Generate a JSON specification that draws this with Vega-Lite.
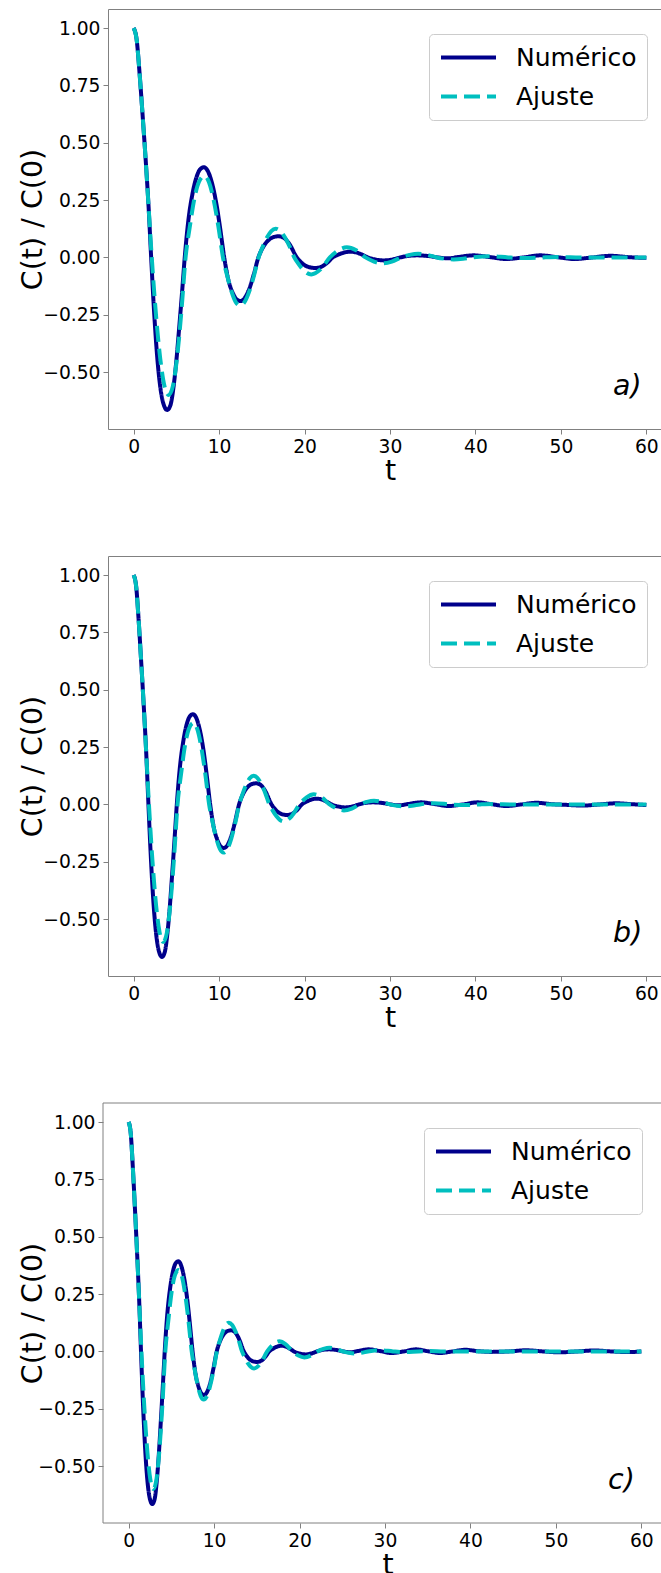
{
"$schema": "https://vega.github.io/schema/vega-lite/v6.json",
"padding": {"left": 17, "top": 8, "right": 0, "bottom": 0},
"spacing": 69,
"columns": 1,
"config": {
  "font": "DejaVu Sans",
  "view": {"stroke": "#808080", "strokeWidth": 1},
  "axis": {"grid": false, "domain": false, "tickSize": 5, "tickColor": "#808080", "tickWidth": 1, "labelFontSize": 18.7, "labelColor": "#000000", "labelPadding": 3, "titleFontSize": 28.5, "titleFontWeight": "normal", "titleColor": "#000000", "labelFont": "DejaVu Sans", "titleFont": "DejaVu Sans"},
  "legend": {"title": null, "orient": "top-right", "offset": 25, "symbolType": "stroke", "symbolSize": 3025, "symbolStrokeWidth": 4, "labelFontSize": 25, "labelFont": "DejaVu Sans", "labelColor": "#000000", "fillColor": "#ffffff", "strokeColor": "#cccccc", "cornerRadius": 4, "padding": 10, "rowPadding": 12, "labelOffset": 18, "clipHeight": 27}
},
"resolve": {"scale": {"color": "independent", "strokeDash": "independent"}, "legend": {"color": "independent", "strokeDash": "independent"}},
"datasets": {
"a": [
{"t":0,"v":1,"s":"Numérico"},{"t":0.35,"v":0.95,"s":"Numérico"},{"t":0.7,"v":0.8,"s":"Numérico"},{"t":1.05,"v":0.62,"s":"Numérico"},{"t":1.4,"v":0.43,"s":"Numérico"},{"t":1.75,"v":0.22,"s":"Numérico"},{"t":2.05,"v":0,"s":"Numérico"},{"t":2.4,"v":-0.24,"s":"Numérico"},{"t":2.75,"v":-0.43,"s":"Numérico"},{"t":3.1,"v":-0.56,"s":"Numérico"},{"t":3.5,"v":-0.64,"s":"Numérico"},{"t":3.92,"v":-0.665,"s":"Numérico"},{"t":4.3,"v":-0.645,"s":"Numérico"},{"t":4.65,"v":-0.57,"s":"Numérico"},{"t":5.0,"v":-0.45,"s":"Numérico"},{"t":5.3,"v":-0.32,"s":"Numérico"},{"t":5.65,"v":-0.16,"s":"Numérico"},{"t":5.98,"v":0,"s":"Numérico"},{"t":6.4,"v":0.16,"s":"Numérico"},{"t":6.9,"v":0.28,"s":"Numérico"},{"t":7.4,"v":0.355,"s":"Numérico"},{"t":7.8,"v":0.385,"s":"Numérico"},{"t":8.22,"v":0.393,"s":"Numérico"},{"t":8.7,"v":0.375,"s":"Numérico"},{"t":9.2,"v":0.32,"s":"Numérico"},{"t":9.7,"v":0.23,"s":"Numérico"},{"t":10.15,"v":0.12,"s":"Numérico"},{"t":10.6,"v":0,"s":"Numérico"},{"t":11.1,"v":-0.1,"s":"Numérico"},{"t":11.6,"v":-0.155,"s":"Numérico"},{"t":12.05,"v":-0.183,"s":"Numérico"},{"t":12.5,"v":-0.19,"s":"Numérico"},{"t":13.0,"v":-0.177,"s":"Numérico"},{"t":13.5,"v":-0.14,"s":"Numérico"},{"t":14.05,"v":-0.075,"s":"Numérico"},{"t":14.6,"v":0,"s":"Numérico"},{"t":15.2,"v":0.048,"s":"Numérico"},{"t":15.8,"v":0.076,"s":"Numérico"},{"t":16.4,"v":0.089,"s":"Numérico"},{"t":16.95,"v":0.092,"s":"Numérico"},{"t":17.5,"v":0.087,"s":"Numérico"},{"t":18.2,"v":0.06,"s":"Numérico"},{"t":19.1,"v":0,"s":"Numérico"},{"t":19.8,"v":-0.028,"s":"Numérico"},{"t":20.5,"v":-0.042,"s":"Numérico"},{"t":21.25,"v":-0.046,"s":"Numérico"},{"t":22.0,"v":-0.04,"s":"Numérico"},{"t":22.7,"v":-0.022,"s":"Numérico"},{"t":23.3,"v":0,"s":"Numérico"},{"t":24.0,"v":0.013,"s":"Numérico"},{"t":24.7,"v":0.022,"s":"Numérico"},{"t":25.4,"v":0.025,"s":"Numérico"},{"t":26.1,"v":0.021,"s":"Numérico"},{"t":26.8,"v":0.011,"s":"Numérico"},{"t":27.4,"v":0,"s":"Numérico"},{"t":28.3,"v":-0.009,"s":"Numérico"},{"t":29.3,"v":-0.013,"s":"Numérico"},{"t":30.3,"v":-0.009,"s":"Numérico"},{"t":31.2,"v":0,"s":"Numérico"},{"t":32.2,"v":0.007,"s":"Numérico"},{"t":33.2,"v":0.009,"s":"Numérico"},{"t":34.5,"v":0.006,"s":"Numérico"},{"t":35.6,"v":0,"s":"Numérico"},{"t":36.8,"v":-0.004,"s":"Numérico"},{"t":38.0,"v":0.002,"s":"Numérico"},{"t":39.8,"v":0.009,"s":"Numérico"},{"t":41.6,"v":0.002,"s":"Numérico"},{"t":43.6,"v":-0.007,"s":"Numérico"},{"t":45.6,"v":0,"s":"Numérico"},{"t":47.6,"v":0.009,"s":"Numérico"},{"t":49.6,"v":0.001,"s":"Numérico"},{"t":51.6,"v":-0.007,"s":"Numérico"},{"t":53.7,"v":0,"s":"Numérico"},{"t":55.8,"v":0.007,"s":"Numérico"},{"t":58.0,"v":0.001,"s":"Numérico"},{"t":60,"v":-0.002,"s":"Numérico"},
{"t":0,"v":1,"s":"Ajuste"},{"t":0.35,"v":0.95,"s":"Ajuste"},{"t":0.7,"v":0.8,"s":"Ajuste"},{"t":1.05,"v":0.62,"s":"Ajuste"},{"t":1.4,"v":0.43,"s":"Ajuste"},{"t":1.75,"v":0.22,"s":"Ajuste"},{"t":2.12,"v":0,"s":"Ajuste"},{"t":2.615,"v":-0.25,"s":"Ajuste"},{"t":3.11,"v":-0.44,"s":"Ajuste"},{"t":3.605,"v":-0.56,"s":"Ajuste"},{"t":4.1,"v":-0.6,"s":"Ajuste"},{"t":4.6,"v":-0.56,"s":"Ajuste"},{"t":5.1,"v":-0.43,"s":"Ajuste"},{"t":5.6,"v":-0.23,"s":"Ajuste"},{"t":6.08,"v":0,"s":"Ajuste"},{"t":6.6,"v":0.14,"s":"Ajuste"},{"t":7.1,"v":0.255,"s":"Ajuste"},{"t":7.65,"v":0.33,"s":"Ajuste"},{"t":8.27,"v":0.355,"s":"Ajuste"},{"t":8.82,"v":0.328,"s":"Ajuste"},{"t":9.36,"v":0.251,"s":"Ajuste"},{"t":9.91,"v":0.136,"s":"Ajuste"},{"t":10.455,"v":0,"s":"Ajuste"},{"t":10.95,"v":-0.08,"s":"Ajuste"},{"t":11.45,"v":-0.148,"s":"Ajuste"},{"t":11.94,"v":-0.194,"s":"Ajuste"},{"t":12.44,"v":-0.21,"s":"Ajuste"},{"t":12.99,"v":-0.194,"s":"Ajuste"},{"t":13.53,"v":-0.148,"s":"Ajuste"},{"t":14.08,"v":-0.08,"s":"Ajuste"},{"t":14.625,"v":0,"s":"Ajuste"},{"t":15.12,"v":0.048,"s":"Ajuste"},{"t":15.62,"v":0.088,"s":"Ajuste"},{"t":16.11,"v":0.115,"s":"Ajuste"},{"t":16.61,"v":0.125,"s":"Ajuste"},{"t":17.16,"v":0.115,"s":"Ajuste"},{"t":17.7,"v":0.088,"s":"Ajuste"},{"t":18.25,"v":0.048,"s":"Ajuste"},{"t":18.795,"v":0,"s":"Ajuste"},{"t":19.29,"v":-0.028,"s":"Ajuste"},{"t":19.79,"v":-0.052,"s":"Ajuste"},{"t":20.28,"v":-0.068,"s":"Ajuste"},{"t":20.78,"v":-0.074,"s":"Ajuste"},{"t":21.87,"v":-0.052,"s":"Ajuste"},{"t":22.965,"v":0,"s":"Ajuste"},{"t":23.96,"v":0.031,"s":"Ajuste"},{"t":24.95,"v":0.044,"s":"Ajuste"},{"t":26.04,"v":0.031,"s":"Ajuste"},{"t":27.135,"v":0,"s":"Ajuste"},{"t":28.13,"v":-0.018,"s":"Ajuste"},{"t":29.12,"v":-0.026,"s":"Ajuste"},{"t":30.21,"v":-0.018,"s":"Ajuste"},{"t":31.305,"v":0,"s":"Ajuste"},{"t":32.3,"v":0.011,"s":"Ajuste"},{"t":33.29,"v":0.016,"s":"Ajuste"},{"t":34.38,"v":0.011,"s":"Ajuste"},{"t":35.475,"v":0,"s":"Ajuste"},{"t":36.47,"v":-0.006,"s":"Ajuste"},{"t":37.46,"v":-0.009,"s":"Ajuste"},{"t":38.55,"v":-0.006,"s":"Ajuste"},{"t":39.645,"v":0,"s":"Ajuste"},{"t":41.63,"v":0.0055,"s":"Ajuste"},{"t":43.815,"v":0,"s":"Ajuste"},{"t":45.8,"v":-0.003,"s":"Ajuste"},{"t":47.98,"v":0,"s":"Ajuste"},{"t":49.97,"v":0.0015,"s":"Ajuste"},{"t":52.2,"v":0,"s":"Ajuste"},{"t":60,"v":0,"s":"Ajuste"}
],
"b": [
{"t":0,"v":1,"s":"Numérico"},{"t":0.296,"v":0.95,"s":"Numérico"},{"t":0.592,"v":0.8,"s":"Numérico"},{"t":0.887,"v":0.62,"s":"Numérico"},{"t":1.183,"v":0.43,"s":"Numérico"},{"t":1.479,"v":0.22,"s":"Numérico"},{"t":1.732,"v":0,"s":"Numérico"},{"t":2.028,"v":-0.24,"s":"Numérico"},{"t":2.324,"v":-0.43,"s":"Numérico"},{"t":2.62,"v":-0.56,"s":"Numérico"},{"t":2.958,"v":-0.64,"s":"Numérico"},{"t":3.312,"v":-0.665,"s":"Numérico"},{"t":3.634,"v":-0.645,"s":"Numérico"},{"t":3.929,"v":-0.57,"s":"Numérico"},{"t":4.225,"v":-0.45,"s":"Numérico"},{"t":4.479,"v":-0.32,"s":"Numérico"},{"t":4.774,"v":-0.16,"s":"Numérico"},{"t":5.053,"v":0,"s":"Numérico"},{"t":5.408,"v":0.16,"s":"Numérico"},{"t":5.831,"v":0.28,"s":"Numérico"},{"t":6.253,"v":0.355,"s":"Numérico"},{"t":6.591,"v":0.385,"s":"Numérico"},{"t":6.946,"v":0.393,"s":"Numérico"},{"t":7.352,"v":0.375,"s":"Numérico"},{"t":7.774,"v":0.32,"s":"Numérico"},{"t":8.197,"v":0.23,"s":"Numérico"},{"t":8.577,"v":0.12,"s":"Numérico"},{"t":8.957,"v":0,"s":"Numérico"},{"t":9.38,"v":-0.1,"s":"Numérico"},{"t":9.802,"v":-0.155,"s":"Numérico"},{"t":10.182,"v":-0.183,"s":"Numérico"},{"t":10.563,"v":-0.19,"s":"Numérico"},{"t":10.985,"v":-0.177,"s":"Numérico"},{"t":11.408,"v":-0.14,"s":"Numérico"},{"t":11.872,"v":-0.075,"s":"Numérico"},{"t":12.337,"v":0,"s":"Numérico"},{"t":12.844,"v":0.048,"s":"Numérico"},{"t":13.351,"v":0.076,"s":"Numérico"},{"t":13.858,"v":0.089,"s":"Numérico"},{"t":14.323,"v":0.092,"s":"Numérico"},{"t":14.788,"v":0.087,"s":"Numérico"},{"t":15.379,"v":0.06,"s":"Numérico"},{"t":16.14,"v":0,"s":"Numérico"},{"t":16.731,"v":-0.028,"s":"Numérico"},{"t":17.323,"v":-0.042,"s":"Numérico"},{"t":17.956,"v":-0.046,"s":"Numérico"},{"t":18.59,"v":-0.04,"s":"Numérico"},{"t":19.182,"v":-0.022,"s":"Numérico"},{"t":19.689,"v":0,"s":"Numérico"},{"t":20.28,"v":0.013,"s":"Numérico"},{"t":20.872,"v":0.022,"s":"Numérico"},{"t":21.463,"v":0.025,"s":"Numérico"},{"t":22.055,"v":0.021,"s":"Numérico"},{"t":22.646,"v":0.011,"s":"Numérico"},{"t":23.153,"v":0,"s":"Numérico"},{"t":23.914,"v":-0.009,"s":"Numérico"},{"t":24.759,"v":-0.013,"s":"Numérico"},{"t":25.604,"v":-0.009,"s":"Numérico"},{"t":26.364,"v":0,"s":"Numérico"},{"t":27.209,"v":0.007,"s":"Numérico"},{"t":28.054,"v":0.009,"s":"Numérico"},{"t":29.153,"v":0.006,"s":"Numérico"},{"t":30.082,"v":0,"s":"Numérico"},{"t":31.096,"v":-0.004,"s":"Numérico"},{"t":32.11,"v":0.002,"s":"Numérico"},{"t":33.631,"v":0.009,"s":"Numérico"},{"t":35.152,"v":0.002,"s":"Numérico"},{"t":36.842,"v":-0.007,"s":"Numérico"},{"t":38.532,"v":0,"s":"Numérico"},{"t":40.222,"v":0.009,"s":"Numérico"},{"t":41.912,"v":0.001,"s":"Numérico"},{"t":43.602,"v":-0.007,"s":"Numérico"},{"t":45.377,"v":0,"s":"Numérico"},{"t":47.151,"v":0.007,"s":"Numérico"},{"t":49.01,"v":0.001,"s":"Numérico"},{"t":50.7,"v":-0.002,"s":"Numérico"},{"t":52.5,"v":-0.005,"s":"Numérico"},{"t":54.5,"v":0,"s":"Numérico"},{"t":56.5,"v":0.005,"s":"Numérico"},{"t":58.3,"v":0.001,"s":"Numérico"},{"t":60,"v":-0.003,"s":"Numérico"},
{"t":0,"v":1,"s":"Ajuste"},{"t":0.296,"v":0.95,"s":"Ajuste"},{"t":0.592,"v":0.8,"s":"Ajuste"},{"t":0.887,"v":0.62,"s":"Ajuste"},{"t":1.183,"v":0.43,"s":"Ajuste"},{"t":1.479,"v":0.22,"s":"Ajuste"},{"t":1.791,"v":0,"s":"Ajuste"},{"t":2.21,"v":-0.25,"s":"Ajuste"},{"t":2.628,"v":-0.44,"s":"Ajuste"},{"t":3.046,"v":-0.56,"s":"Ajuste"},{"t":3.465,"v":-0.6,"s":"Ajuste"},{"t":3.887,"v":-0.56,"s":"Ajuste"},{"t":4.31,"v":-0.43,"s":"Ajuste"},{"t":4.732,"v":-0.23,"s":"Ajuste"},{"t":5.138,"v":0,"s":"Ajuste"},{"t":5.577,"v":0.14,"s":"Ajuste"},{"t":6.0,"v":0.255,"s":"Ajuste"},{"t":6.464,"v":0.33,"s":"Ajuste"},{"t":6.988,"v":0.355,"s":"Ajuste"},{"t":7.453,"v":0.328,"s":"Ajuste"},{"t":7.909,"v":0.251,"s":"Ajuste"},{"t":8.374,"v":0.136,"s":"Ajuste"},{"t":8.834,"v":0,"s":"Ajuste"},{"t":9.253,"v":-0.08,"s":"Ajuste"},{"t":9.675,"v":-0.148,"s":"Ajuste"},{"t":10.089,"v":-0.194,"s":"Ajuste"},{"t":10.512,"v":-0.21,"s":"Ajuste"},{"t":10.977,"v":-0.194,"s":"Ajuste"},{"t":11.433,"v":-0.148,"s":"Ajuste"},{"t":11.898,"v":-0.08,"s":"Ajuste"},{"t":12.358,"v":0,"s":"Ajuste"},{"t":12.776,"v":0.048,"s":"Ajuste"},{"t":13.199,"v":0.088,"s":"Ajuste"},{"t":13.613,"v":0.115,"s":"Ajuste"},{"t":14.035,"v":0.125,"s":"Ajuste"},{"t":14.5,"v":0.115,"s":"Ajuste"},{"t":14.957,"v":0.088,"s":"Ajuste"},{"t":15.421,"v":0.048,"s":"Ajuste"},{"t":15.882,"v":0,"s":"Ajuste"},{"t":16.3,"v":-0.028,"s":"Ajuste"},{"t":16.723,"v":-0.052,"s":"Ajuste"},{"t":17.137,"v":-0.068,"s":"Ajuste"},{"t":17.559,"v":-0.074,"s":"Ajuste"},{"t":18.48,"v":-0.052,"s":"Ajuste"},{"t":19.405,"v":0,"s":"Ajuste"},{"t":20.246,"v":0.031,"s":"Ajuste"},{"t":21.083,"v":0.044,"s":"Ajuste"},{"t":22.004,"v":0.031,"s":"Ajuste"},{"t":22.929,"v":0,"s":"Ajuste"},{"t":23.77,"v":-0.018,"s":"Ajuste"},{"t":24.606,"v":-0.026,"s":"Ajuste"},{"t":25.527,"v":-0.018,"s":"Ajuste"},{"t":26.453,"v":0,"s":"Ajuste"},{"t":27.294,"v":0.011,"s":"Ajuste"},{"t":28.13,"v":0.016,"s":"Ajuste"},{"t":29.051,"v":0.011,"s":"Ajuste"},{"t":29.976,"v":0,"s":"Ajuste"},{"t":30.817,"v":-0.006,"s":"Ajuste"},{"t":31.654,"v":-0.009,"s":"Ajuste"},{"t":32.575,"v":-0.006,"s":"Ajuste"},{"t":33.5,"v":0,"s":"Ajuste"},{"t":35.177,"v":0.0055,"s":"Ajuste"},{"t":37.024,"v":0,"s":"Ajuste"},{"t":38.701,"v":-0.003,"s":"Ajuste"},{"t":40.543,"v":0,"s":"Ajuste"},{"t":42.225,"v":0.0015,"s":"Ajuste"},{"t":44.109,"v":0,"s":"Ajuste"},{"t":60,"v":0,"s":"Ajuste"}
],
"c": [
{"t":0,"v":1,"s":"Numérico"},{"t":0.247,"v":0.95,"s":"Numérico"},{"t":0.494,"v":0.8,"s":"Numérico"},{"t":0.741,"v":0.62,"s":"Numérico"},{"t":0.988,"v":0.43,"s":"Numérico"},{"t":1.236,"v":0.22,"s":"Numérico"},{"t":1.447,"v":0,"s":"Numérico"},{"t":1.694,"v":-0.24,"s":"Numérico"},{"t":1.942,"v":-0.43,"s":"Numérico"},{"t":2.189,"v":-0.56,"s":"Numérico"},{"t":2.471,"v":-0.64,"s":"Numérico"},{"t":2.768,"v":-0.665,"s":"Numérico"},{"t":3.036,"v":-0.645,"s":"Numérico"},{"t":3.283,"v":-0.57,"s":"Numérico"},{"t":3.53,"v":-0.45,"s":"Numérico"},{"t":3.742,"v":-0.32,"s":"Numérico"},{"t":3.989,"v":-0.16,"s":"Numérico"},{"t":4.222,"v":0,"s":"Numérico"},{"t":4.518,"v":0.16,"s":"Numérico"},{"t":4.871,"v":0.28,"s":"Numérico"},{"t":5.224,"v":0.355,"s":"Numérico"},{"t":5.507,"v":0.385,"s":"Numérico"},{"t":5.803,"v":0.393,"s":"Numérico"},{"t":6.142,"v":0.375,"s":"Numérico"},{"t":6.495,"v":0.32,"s":"Numérico"},{"t":6.848,"v":0.23,"s":"Numérico"},{"t":7.166,"v":0.12,"s":"Numérico"},{"t":7.484,"v":0,"s":"Numérico"},{"t":7.837,"v":-0.1,"s":"Numérico"},{"t":8.19,"v":-0.155,"s":"Numérico"},{"t":8.507,"v":-0.183,"s":"Numérico"},{"t":8.825,"v":-0.19,"s":"Numérico"},{"t":9.178,"v":-0.177,"s":"Numérico"},{"t":9.531,"v":-0.14,"s":"Numérico"},{"t":9.919,"v":-0.075,"s":"Numérico"},{"t":10.308,"v":0,"s":"Numérico"},{"t":10.731,"v":0.048,"s":"Numérico"},{"t":11.155,"v":0.076,"s":"Numérico"},{"t":11.578,"v":0.089,"s":"Numérico"},{"t":11.967,"v":0.092,"s":"Numérico"},{"t":12.355,"v":0.087,"s":"Numérico"},{"t":12.849,"v":0.06,"s":"Numérico"},{"t":13.485,"v":0,"s":"Numérico"},{"t":13.979,"v":-0.028,"s":"Numérico"},{"t":14.473,"v":-0.042,"s":"Numérico"},{"t":15.003,"v":-0.046,"s":"Numérico"},{"t":15.532,"v":-0.04,"s":"Numérico"},{"t":16.026,"v":-0.022,"s":"Numérico"},{"t":16.45,"v":0,"s":"Numérico"},{"t":16.944,"v":0.013,"s":"Numérico"},{"t":17.438,"v":0.022,"s":"Numérico"},{"t":17.932,"v":0.025,"s":"Numérico"},{"t":18.427,"v":0.021,"s":"Numérico"},{"t":18.921,"v":0.011,"s":"Numérico"},{"t":19.344,"v":0,"s":"Numérico"},{"t":19.98,"v":-0.009,"s":"Numérico"},{"t":20.686,"v":-0.013,"s":"Numérico"},{"t":21.392,"v":-0.009,"s":"Numérico"},{"t":22.027,"v":0,"s":"Numérico"},{"t":22.733,"v":0.007,"s":"Numérico"},{"t":23.439,"v":0.009,"s":"Numérico"},{"t":24.357,"v":0.006,"s":"Numérico"},{"t":25.134,"v":0,"s":"Numérico"},{"t":25.981,"v":-0.004,"s":"Numérico"},{"t":26.828,"v":0.002,"s":"Numérico"},{"t":28.099,"v":0.009,"s":"Numérico"},{"t":29.37,"v":0.002,"s":"Numérico"},{"t":30.782,"v":-0.007,"s":"Numérico"},{"t":32.194,"v":0,"s":"Numérico"},{"t":33.606,"v":0.009,"s":"Numérico"},{"t":35.018,"v":0.001,"s":"Numérico"},{"t":36.43,"v":-0.007,"s":"Numérico"},{"t":37.912,"v":0,"s":"Numérico"},{"t":39.395,"v":0.007,"s":"Numérico"},{"t":40.948,"v":0.001,"s":"Numérico"},{"t":42.36,"v":-0.002,"s":"Numérico"},{"t":44.5,"v":0,"s":"Numérico"},{"t":46.5,"v":0.005,"s":"Numérico"},{"t":48.5,"v":0,"s":"Numérico"},{"t":50.5,"v":-0.004,"s":"Numérico"},{"t":52.5,"v":0,"s":"Numérico"},{"t":54.5,"v":0.004,"s":"Numérico"},{"t":56.5,"v":0,"s":"Numérico"},{"t":58.5,"v":-0.003,"s":"Numérico"},{"t":60,"v":0,"s":"Numérico"},
{"t":0,"v":1,"s":"Ajuste"},{"t":0.247,"v":0.95,"s":"Ajuste"},{"t":0.494,"v":0.8,"s":"Ajuste"},{"t":0.741,"v":0.62,"s":"Ajuste"},{"t":0.988,"v":0.43,"s":"Ajuste"},{"t":1.236,"v":0.22,"s":"Ajuste"},{"t":1.497,"v":0,"s":"Ajuste"},{"t":1.846,"v":-0.25,"s":"Ajuste"},{"t":2.196,"v":-0.44,"s":"Ajuste"},{"t":2.545,"v":-0.56,"s":"Ajuste"},{"t":2.895,"v":-0.6,"s":"Ajuste"},{"t":3.248,"v":-0.56,"s":"Ajuste"},{"t":3.601,"v":-0.43,"s":"Ajuste"},{"t":3.954,"v":-0.23,"s":"Ajuste"},{"t":4.292,"v":0,"s":"Ajuste"},{"t":4.66,"v":0.14,"s":"Ajuste"},{"t":5.013,"v":0.255,"s":"Ajuste"},{"t":5.401,"v":0.33,"s":"Ajuste"},{"t":5.839,"v":0.355,"s":"Ajuste"},{"t":6.227,"v":0.328,"s":"Ajuste"},{"t":6.608,"v":0.251,"s":"Ajuste"},{"t":6.996,"v":0.136,"s":"Ajuste"},{"t":7.381,"v":0,"s":"Ajuste"},{"t":7.731,"v":-0.08,"s":"Ajuste"},{"t":8.084,"v":-0.148,"s":"Ajuste"},{"t":8.43,"v":-0.194,"s":"Ajuste"},{"t":8.783,"v":-0.21,"s":"Ajuste"},{"t":9.171,"v":-0.194,"s":"Ajuste"},{"t":9.552,"v":-0.148,"s":"Ajuste"},{"t":9.94,"v":-0.08,"s":"Ajuste"},{"t":10.325,"v":0,"s":"Ajuste"},{"t":10.675,"v":0.048,"s":"Ajuste"},{"t":11.028,"v":0.088,"s":"Ajuste"},{"t":11.374,"v":0.115,"s":"Ajuste"},{"t":11.727,"v":0.125,"s":"Ajuste"},{"t":12.115,"v":0.115,"s":"Ajuste"},{"t":12.496,"v":0.088,"s":"Ajuste"},{"t":12.885,"v":0.048,"s":"Ajuste"},{"t":13.269,"v":0,"s":"Ajuste"},{"t":13.619,"v":-0.028,"s":"Ajuste"},{"t":13.972,"v":-0.052,"s":"Ajuste"},{"t":14.318,"v":-0.068,"s":"Ajuste"},{"t":14.671,"v":-0.074,"s":"Ajuste"},{"t":15.44,"v":-0.052,"s":"Ajuste"},{"t":16.213,"v":0,"s":"Ajuste"},{"t":16.916,"v":0.031,"s":"Ajuste"},{"t":17.615,"v":0.044,"s":"Ajuste"},{"t":18.384,"v":0.031,"s":"Ajuste"},{"t":19.157,"v":0,"s":"Ajuste"},{"t":19.86,"v":-0.018,"s":"Ajuste"},{"t":20.559,"v":-0.026,"s":"Ajuste"},{"t":21.328,"v":-0.018,"s":"Ajuste"},{"t":22.101,"v":0,"s":"Ajuste"},{"t":22.804,"v":0.011,"s":"Ajuste"},{"t":23.503,"v":0.016,"s":"Ajuste"},{"t":24.272,"v":0.011,"s":"Ajuste"},{"t":25.045,"v":0,"s":"Ajuste"},{"t":25.748,"v":-0.006,"s":"Ajuste"},{"t":26.447,"v":-0.009,"s":"Ajuste"},{"t":27.216,"v":-0.006,"s":"Ajuste"},{"t":27.989,"v":0,"s":"Ajuste"},{"t":29.391,"v":0.0055,"s":"Ajuste"},{"t":30.933,"v":0,"s":"Ajuste"},{"t":32.335,"v":-0.003,"s":"Ajuste"},{"t":33.874,"v":0,"s":"Ajuste"},{"t":35.279,"v":0.0015,"s":"Ajuste"},{"t":36.853,"v":0,"s":"Ajuste"},{"t":60,"v":0,"s":"Ajuste"}
]
},
"concat": [
{
  "width": 564, "height": 420,
  "layer": [
    {"data": {"name": "a"}, "transform": [{"filter": "datum.s === 'Numérico'"}],
     "mark": {"type": "line", "strokeWidth": 4, "interpolate": "monotone", "clip": true},
     "encoding": {
       "x": {"field": "t", "type": "quantitative", "scale": {"domain": [-3, 63], "nice": false, "zero": false}, "axis": {"values": [0,10,20,30,40,50,60], "title": "t", "titlePadding": 1, "labelFlush": false}},
       "y": {"field": "v", "type": "quantitative", "scale": {"domain": [-0.748, 1.083], "nice": false, "zero": false}, "axis": {"values": [-0.5,-0.25,0,0.25,0.5,0.75,1], "format": ".2f", "title": "C(t) / C(0)", "minExtent": 61, "maxExtent": 61, "titlePadding": 0}},
       "color": {"field": "s", "type": "nominal", "scale": {"domain": ["Numérico", "Ajuste"], "range": ["#00008B", "#00BFBF"]}},
       "strokeDash": {"field": "s", "type": "nominal", "scale": {"domain": ["Numérico", "Ajuste"], "range": [[1,0],[16,7]]}}
     }},
    {"data": {"name": "a"}, "transform": [{"filter": "datum.s === 'Ajuste'"}],
     "mark": {"type": "line", "strokeWidth": 4, "interpolate": "monotone", "clip": true},
     "encoding": {
       "x": {"field": "t", "type": "quantitative"},
       "y": {"field": "v", "type": "quantitative"},
       "color": {"field": "s", "type": "nominal"},
       "strokeDash": {"field": "s", "type": "nominal"}
     }},
    {"data": {"values": [{"lab": "a)"}]},
     "mark": {"type": "text", "fontSize": 28.5, "fontStyle": "italic", "align": "left", "baseline": "alphabetic", "font": "DejaVu Sans", "color": "#000000"},
     "encoding": {"x": {"datum": 56.1, "type": "quantitative"}, "y": {"datum": -0.6, "type": "quantitative"}, "text": {"field": "lab"}}}
  ]
},
{
  "width": 564, "height": 420,
  "layer": [
    {"data": {"name": "b"}, "transform": [{"filter": "datum.s === 'Numérico'"}],
     "mark": {"type": "line", "strokeWidth": 4, "interpolate": "monotone", "clip": true},
     "encoding": {
       "x": {"field": "t", "type": "quantitative", "scale": {"domain": [-3, 63], "nice": false, "zero": false}, "axis": {"values": [0,10,20,30,40,50,60], "title": "t", "titlePadding": 1, "labelFlush": false}},
       "y": {"field": "v", "type": "quantitative", "scale": {"domain": [-0.748, 1.083], "nice": false, "zero": false}, "axis": {"values": [-0.5,-0.25,0,0.25,0.5,0.75,1], "format": ".2f", "title": "C(t) / C(0)", "minExtent": 61, "maxExtent": 61, "titlePadding": 0}},
       "color": {"field": "s", "type": "nominal", "scale": {"domain": ["Numérico", "Ajuste"], "range": ["#00008B", "#00BFBF"]}},
       "strokeDash": {"field": "s", "type": "nominal", "scale": {"domain": ["Numérico", "Ajuste"], "range": [[1,0],[16,7]]}}
     }},
    {"data": {"name": "b"}, "transform": [{"filter": "datum.s === 'Ajuste'"}],
     "mark": {"type": "line", "strokeWidth": 4, "interpolate": "monotone", "clip": true},
     "encoding": {
       "x": {"field": "t", "type": "quantitative"},
       "y": {"field": "v", "type": "quantitative"},
       "color": {"field": "s", "type": "nominal"},
       "strokeDash": {"field": "s", "type": "nominal"}
     }},
    {"data": {"values": [{"lab": "b)"}]},
     "mark": {"type": "text", "fontSize": 28.5, "fontStyle": "italic", "align": "left", "baseline": "alphabetic", "font": "DejaVu Sans", "color": "#000000"},
     "encoding": {"x": {"datum": 56.1, "type": "quantitative"}, "y": {"datum": -0.6, "type": "quantitative"}, "text": {"field": "lab"}}}
  ]
},
{
  "width": 559, "height": 420,
  "view": {"stroke": null},
  "layer": [
    {"data": {"name": "c"}, "transform": [{"filter": "datum.s === 'Numérico'"}],
     "mark": {"type": "line", "strokeWidth": 4, "interpolate": "monotone", "clip": true},
     "encoding": {
       "x": {"field": "t", "type": "quantitative", "scale": {"domain": [-2.415, 63], "nice": false, "zero": false}, "axis": {"values": [0,10,20,30,40,50,60], "title": "t", "titlePadding": 1, "labelFlush": false}},
       "y": {"field": "v", "type": "quantitative", "scale": {"domain": [-0.748, 1.083], "nice": false, "zero": false}, "axis": {"values": [-0.5,-0.25,0,0.25,0.5,0.75,1], "format": ".2f", "title": "C(t) / C(0)", "offset": 5, "minExtent": 56, "maxExtent": 56, "titlePadding": 0}},
       "color": {"field": "s", "type": "nominal", "scale": {"domain": ["Numérico", "Ajuste"], "range": ["#00008B", "#00BFBF"]}},
       "strokeDash": {"field": "s", "type": "nominal", "scale": {"domain": ["Numérico", "Ajuste"], "range": [[1,0],[16,7]]}}
     }},
    {"data": {"name": "c"}, "transform": [{"filter": "datum.s === 'Ajuste'"}],
     "mark": {"type": "line", "strokeWidth": 4, "interpolate": "monotone", "clip": true},
     "encoding": {
       "x": {"field": "t", "type": "quantitative"},
       "y": {"field": "v", "type": "quantitative"},
       "color": {"field": "s", "type": "nominal"},
       "strokeDash": {"field": "s", "type": "nominal"}
     }},
    {"data": {"values": [{"edge": "top"}]},
     "mark": {"type": "rule", "color": "#808080", "strokeWidth": 1, "clip": false},
     "encoding": {"x": {"datum": -3, "type": "quantitative"}, "x2": {"datum": 63}, "y": {"datum": 1.083, "type": "quantitative"}}},
    {"data": {"values": [{"edge": "bottom"}]},
     "mark": {"type": "rule", "color": "#808080", "strokeWidth": 1, "clip": false},
     "encoding": {"x": {"datum": -3, "type": "quantitative"}, "x2": {"datum": 63}, "y": {"datum": -0.748, "type": "quantitative"}}},
    {"data": {"values": [{"edge": "left"}]},
     "mark": {"type": "rule", "color": "#808080", "strokeWidth": 1, "clip": false},
     "encoding": {"x": {"datum": -3, "type": "quantitative"}, "y": {"datum": -0.748, "type": "quantitative"}, "y2": {"datum": 1.083}}},
    {"data": {"values": [{"lab": "c)"}]},
     "mark": {"type": "text", "fontSize": 28.5, "fontStyle": "italic", "align": "left", "baseline": "alphabetic", "font": "DejaVu Sans", "color": "#000000"},
     "encoding": {"x": {"datum": 56.1, "type": "quantitative"}, "y": {"datum": -0.6, "type": "quantitative"}, "text": {"field": "lab"}}}
  ]
}
]
}
